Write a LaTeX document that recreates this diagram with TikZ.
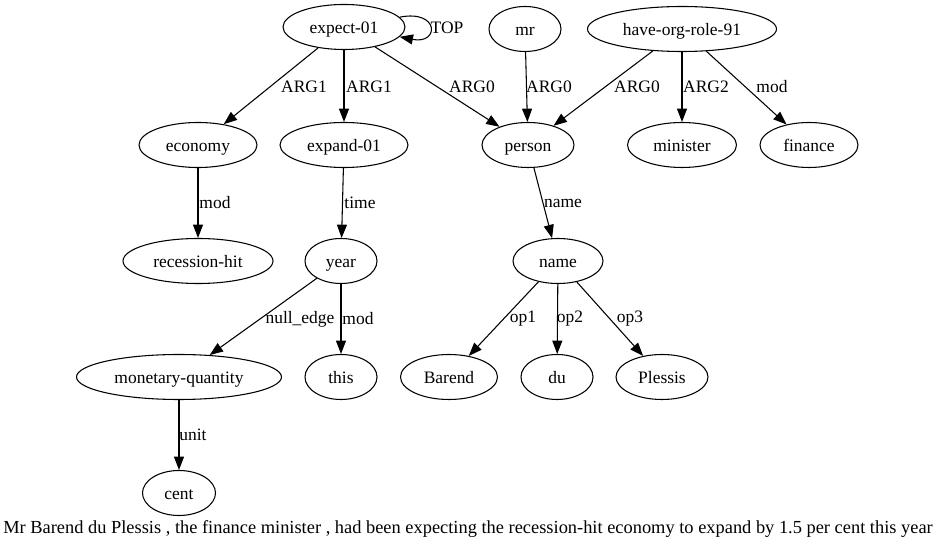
\documentclass[tikz,border=0pt]{standalone}
\usepackage{fontspec}
\setmainfont{Liberation Serif}
\usetikzlibrary{shapes.geometric,arrows.meta}
\tikzset{
  en/.style={ellipse,draw,line width=0.8pt,minimum width=#1*0.75pt,minimum height=33.75pt,inner sep=0pt,text height=10pt,text depth=0pt,font=\fontsize{13.1}{15}\selectfont},
  lbl/.style={inner sep=0pt,font=\fontsize{13.1}{15}\selectfont},
  arr/.style={line width=0.8pt,-{Triangle[length=10pt,width=7.5pt]}}
}
\begin{document}
\begin{tikzpicture}[x=0.75pt,y=-0.75pt]
\useasboundingbox (0,0) rectangle (936,548);
% row 1
\node[en=122] (e) at (344,27) {expect-01};
\node[en=72] (mr) at (525,29) {mr};
\node[en=189] (h) at (682,29) {have-org-role-91};
% row 2
\node[en=118] (econ) at (198,145) {economy};
\node[en=128] (exp) at (344,145) {expand-01};
\node[en=92] (p) at (528,145) {person};
\node[en=109] (min) at (682,145) {minister};
\node[en=98] (fin) at (809,145) {finance};
% row 3
\node[en=150] (rec) at (198,261) {recession-hit};
\node[en=72] (yr) at (341,261) {year};
\node[en=90] (nm) at (558,261) {name};
% row 4
\node[en=205] (mq) at (179,377) {monetary-quantity};
\node[en=72] (th) at (341,377) {this};
\node[en=97] (bar) at (449,377) {Barend};
\node[en=72] (du) at (557,377) {du};
\node[en=92] (ple) at (662,377) {Plessis};
% row 5
\node[en=73] (cent) at (179,493) {cent};
% caption
\node[lbl,font=\fontsize{13.8}{16}\selectfont] (cap) at (468,529) {Mr Barend du Plessis , the finance minister , had been expecting the recession-hit economy to expand by 1.5 per cent this year};
% edges
\draw[arr] (e.10) .. controls +(40,-8) and +(40,8) .. (e.-10);
\node[lbl] (lTOP) at (447,28) {TOP};
\draw[arr] (e) -- (econ);
\node[lbl] (l1) at (304,87) {ARG1};
\draw[arr] (e) -- (exp);
\node[lbl] (l2) at (369,87) {ARG1};
\draw[arr] (e) -- (p);
\node[lbl] (l3) at (472,87) {ARG0};
\draw[arr] (mr) -- (p);
\node[lbl] (l4) at (549,87) {ARG0};
\draw[arr] (h) -- (p);
\node[lbl] (l5) at (637,87) {ARG0};
\draw[arr] (h) -- (min);
\node[lbl] (l6) at (706,87) {ARG2};
\draw[arr] (h) -- (fin);
\node[lbl] (l7) at (772,87) {mod};
\draw[arr] (econ) -- (rec);
\node[lbl] (l8) at (215,203) {mod};
\draw[arr] (exp) -- (yr);
\node[lbl] (l9) at (360,203) {time};
\draw[arr] (p) -- (nm);
\node[lbl] (l10) at (563,203) {name};
\draw[arr] (yr) -- (mq);
\node[lbl] (l11) at (300,319) {null\_edge};
\draw[arr] (yr) -- (th);
\node[lbl] (l12) at (358,319) {mod};
\draw[arr] (nm) -- (bar);
\node[lbl] (l13) at (523,319) {op1};
\draw[arr] (nm) -- (du);
\node[lbl] (l14) at (570,319) {op2};
\draw[arr] (nm) -- (ple);
\node[lbl] (l15) at (630,319) {op3};
\draw[arr] (mq) -- (cent);
\node[lbl] (l16) at (193,435) {unit};
\end{tikzpicture}
\end{document}
